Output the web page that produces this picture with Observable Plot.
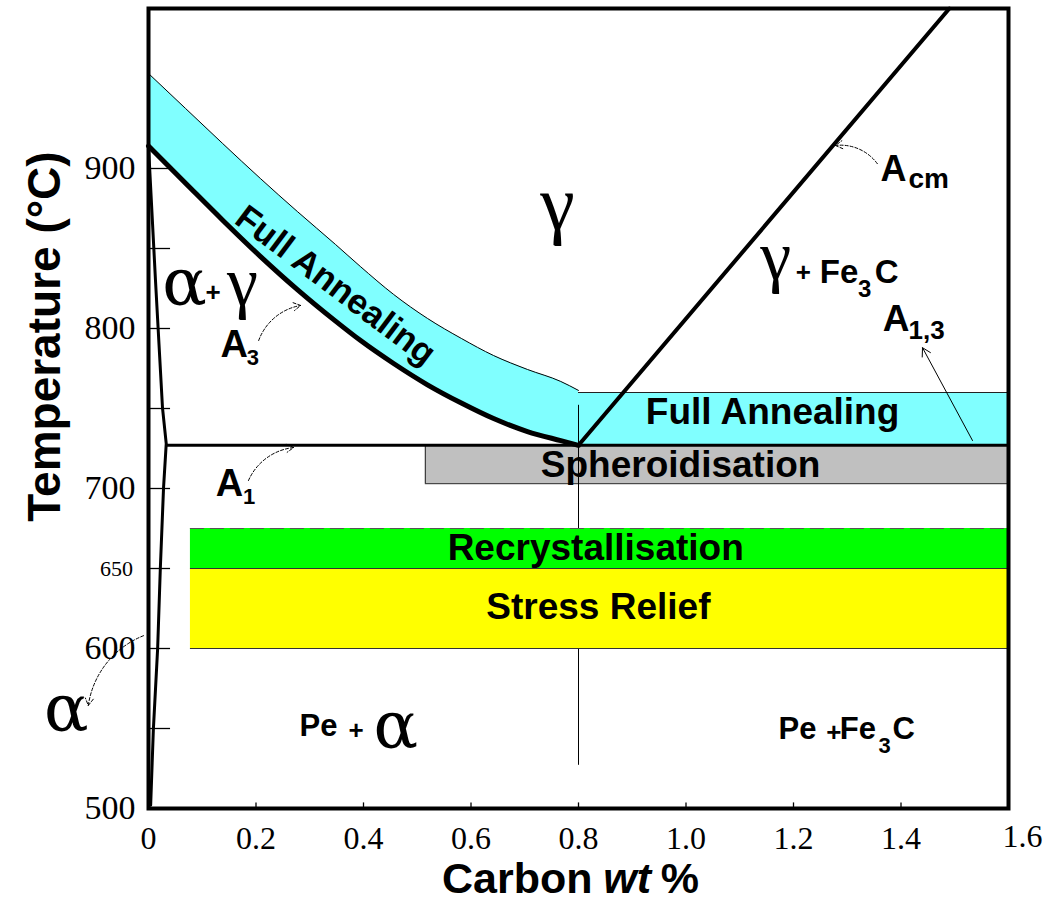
<!DOCTYPE html>
<html>
<head>
<meta charset="utf-8">
<script src="https://cdn.jsdelivr.net/npm/d3@7"></script>
<script src="https://cdn.jsdelivr.net/npm/@observablehq/plot@0.6"></script>
<style>
  html, body { margin: 0; padding: 0; background: #fff; }
  #chart svg { display: block; }
</style>
</head>
<body>
<div id="chart"></div>
<script>
// ---- Data (carbon wt %, temperature °C) ----
const carbon      = [0, 0.069, 0.138, 0.208, 0.277, 0.348, 0.394, 0.456, 0.519, 0.582, 0.642, 0.705, 0.767, 0.8];
const a3Line      = [914, 890.8, 867.7, 845.1, 824.3, 804.6, 792.6, 778.1, 764.8, 753.4, 743.7, 735.6, 729.9, 727];
const annealUpper = [959.4, 937.5, 915.6, 893.8, 873.1, 852.5, 838.8, 821.3, 806.3, 793.8, 783.1, 774.4, 766.9, 761.3];

const alphaC = [0, 0.013, 0.026, 0.033, 0.028, 0.022, 0.017, 0.009, 0.004];
const alphaT = [914, 830, 750.6, 728, 700.6, 650, 600, 549, 502];

const acmC = [0.8, 1.49];
const acmT = [727, 1000];

const eutectoidT = 727;
const eutectoidC = 0.8;
const a1Start = 0.035;

const bandNames = ["Full Annealing", "Spheroidisation", "Recrystallisation", "Stress Relief"];
const bandC1    = [0.8, 0.515, 0.078, 0.078];
const bandC2    = [1.6, 1.6, 1.6, 1.6];
const bandT1    = [727, 703, 650, 600];
const bandT2    = [760, 727, 675, 650];
const bandFill  = ["#80ffff", "#c0c0c0", "#00ff00", "#ffff00"];

const xTicks = [0, 0.2, 0.4, 0.6, 0.8, 1.0, 1.2, 1.4, 1.6];
const xTickLabels = ["0", "0.2", "0.4", "0.6", "0.8", "1.0", "1.2", "1.4", "1.6"];
const yTicks = [550, 600, 650, 700, 750, 800, 850, 900];
const yTickLabels = [900, 800, 700, 600, 500];

// ---- Annotation anchors (data coordinates) ----
const bandLabelC = [1.161, 0.99, 0.832, 0.837];
const bandLabelT = [748, 714.4, 663, 625.6];

const sansPieces = [
  {t: "A", c: 0.134, T: 781.9, s: 38}, {t: "3", c: 0.183, T: 777.5, s: 22},
  {t: "A", c: 0.125, T: 695.6, s: 38}, {t: "1", c: 0.176, T: 690.6, s: 22},
  {t: "A", c: 1.362, T: 892.5, s: 36}, {t: "cm", c: 1.414, T: 888, s: 28},
  {t: "+", c: 1.204, T: 830, s: 26}, {t: "Fe", c: 1.249, T: 828.75, s: 33},
  {t: "3", c: 1.32, T: 819.4, s: 24}, {t: "C", c: 1.351, T: 828.75, s: 33},
  {t: "A", c: 1.366, T: 798.75, s: 37}, {t: "1,3", c: 1.414, T: 793.75, s: 26},
  {t: "+", c: 0.106, T: 817.5, s: 26},
  {t: "Pe", c: 0.281, T: 545.6, s: 31}, {t: "+", c: 0.372, T: 543.75, s: 26},
  {t: "Pe", c: 1.172, T: 543.75, s: 31}, {t: "+", c: 1.261, T: 541.9, s: 26},
  {t: "Fe", c: 1.286, T: 543.75, s: 31}, {t: "3", c: 1.358, T: 535, s: 22},
  {t: "C", c: 1.384, T: 543.75, s: 31}
];
const gammaPieces = [
  {t: "γ", c: 0.761, T: 861.9, s: 78},
  {t: "γ", c: 0.175, T: 814.4, s: 70},
  {t: "γ", c: 1.167, T: 831, s: 70}
];
const alphaPieces = [
  {t: "α", c: 0.067, T: 814.4, s: 66},
  {t: "α", c: -0.153, T: 548.75, s: 66},
  {t: "α", c: 0.46, T: 538, s: 66}
];
const arrowsLeftTurn  = [
  {c1: 0.205, T1: 792.5, c2: 0.283, T2: 814.4},
  {c1: 0.186, T1: 705, c2: 0.27, T2: 725.6}
];
const arrowsRightTurn = [
  {c1: 1.356, T1: 903, c2: 1.278, T2: 914.4},
  {c1: -0.0093, T1: 608, c2: -0.112, T2: 564.4}
];
const straightArrows = [{c1: 1.533, T1: 730, c2: 1.44, T2: 788}];

// ---- Build tables ----
const bandCurve = carbon.map((c, i) => ({c, lo: a3Line[i], hi: annealUpper[i]}));
const alphaLine = alphaC.map((c, i) => ({c, T: alphaT[i]}));
const acmLine = acmC.map((c, i) => ({c, T: acmT[i]}));
const bands = bandNames.map((name, i) => ({name, c1: bandC1[i], c2: bandC2[i], T1: bandT1[i], T2: bandT2[i], fill: bandFill[i], lc: bandLabelC[i], lT: bandLabelT[i]}));

const SANS = "Liberation Sans, Arial, sans-serif";
const SERIF = "Liberation Serif, Times New Roman, serif";
const GREEK_A = "DejaVu Serif, serif";

const chart = Plot.plot({
  width: 1053,
  height: 905,
  marginLeft: 148,
  marginRight: 45,
  marginTop: 8,
  marginBottom: 97,
  x: {domain: [0, 1.6], axis: null},
  y: {domain: [500, 1000], axis: null},
  marks: [
    // Full annealing band above A3
    Plot.areaY(bandCurve, {x: "c", y1: "lo", y2: "hi", fill: "#80ffff", curve: "monotone-x"}),
    // rectangular bands (cyan + gray)
    Plot.rect(bands.slice(0, 2), {x1: "c1", x2: "c2", y1: "T1", y2: "T2", fill: "fill"}),
    Plot.ruleY([bands[0].T2], {x1: eutectoidC, x2: 1.6, stroke: "#222", strokeWidth: 1}),
    Plot.ruleY([bands[1].T1], {x1: bands[1].c1, x2: 1.6, stroke: "#222", strokeWidth: 1}),
    Plot.ruleX([bands[1].c1], {y1: bands[1].T1, y2: bands[1].T2, stroke: "#222", strokeWidth: 1}),
    // vertical eutectoid composition line
    Plot.ruleX([eutectoidC], {y1: 527, y2: 752, stroke: "#000", strokeWidth: 1}),
    // green + yellow bands
    Plot.rect(bands.slice(2), {x1: "c1", x2: "c2", y1: "T1", y2: "T2", fill: "fill"}),
    Plot.ruleY([bands[2].T2], {x1: bands[2].c1, x2: 1.6, stroke: "#555", strokeWidth: 1.2, strokeDasharray: "14,6"}),
    Plot.ruleY([bands[2].T1, bands[3].T1], {x1: bands[2].c1, x2: 1.6, stroke: "#333", strokeWidth: 1}),
    // upper annealing boundary (thin)
    Plot.line(bandCurve, {x: "c", y: "hi", stroke: "#000", strokeWidth: 1, curve: "monotone-x"}),
    // A3 line (thick)
    Plot.line(bandCurve, {x: "c", y: "lo", stroke: "#000", strokeWidth: 5, curve: "monotone-x"}),
    // alpha boundary
    Plot.line(alphaLine, {x: "c", y: "T", stroke: "#000", strokeWidth: 3}),
    // A1 line
    Plot.ruleY([eutectoidT], {x1: a1Start, x2: 1.6, stroke: "#000", strokeWidth: 3}),
    // Acm line
    Plot.line(acmLine, {x: "c", y: "T", stroke: "#000", strokeWidth: 4}),
    // ticks
    Plot.ruleY(yTicks, {x1: 0, x2: 0.041, stroke: "#000", strokeWidth: 1.3}),
    Plot.ruleX(xTicks.slice(1, -1), {y1: 500, y2: 503.5, stroke: "#000", strokeWidth: 1.3}),
    // frame
    Plot.frame({stroke: "#000", strokeWidth: 4}),
    // band labels
    Plot.text(bands, {x: "lc", y: "lT", text: "name", fontFamily: SANS, fontWeight: "bold", fontSize: 37, fill: "#000"}),
    Plot.text(["Full Annealing"], {x: 0.348, y: 826.9, rotate: 37, fontFamily: SANS, fontWeight: "bold", fontSize: 35, fill: "#000"}),
    // phase / line labels
    Plot.text(sansPieces, {x: "c", y: "T", text: "t", fontSize: d => d.s, fontFamily: SANS, fontWeight: "bold", textAnchor: "start", lineAnchor: "bottom", fill: "#000"}),
    Plot.text(gammaPieces, {x: "c", y: "T", text: "t", fontSize: d => d.s, fontFamily: SERIF, textAnchor: "middle", lineAnchor: "bottom", fill: "#000"}),
    Plot.text(alphaPieces, {x: "c", y: "T", text: "t", fontSize: d => d.s, fontFamily: GREEK_A, textAnchor: "middle", lineAnchor: "bottom", fill: "#000"}),
    // arrows
    Plot.arrow(arrowsLeftTurn, {x1: "c1", y1: "T1", x2: "c2", y2: "T2", bend: 30, headLength: 12, stroke: "#000", strokeWidth: 1, strokeDasharray: "3,2"}),
    Plot.arrow(arrowsRightTurn, {x1: "c1", y1: "T1", x2: "c2", y2: "T2", bend: -30, headLength: 12, stroke: "#000", strokeWidth: 1, strokeDasharray: "3,2"}),
    Plot.arrow(straightArrows, {x1: "c1", y1: "T1", x2: "c2", y2: "T2", headLength: 14, stroke: "#000", strokeWidth: 1}),
    // tick labels
    Plot.text(xTicks.slice(0, -1), {x: d => d, y: 474.4, text: (d, i) => xTickLabels[i], fontFamily: SERIF, fontSize: 32, lineAnchor: "bottom", fill: "#000"}),
    Plot.text([xTicks[8]], {x: d => d, y: 476, dx: 14, text: () => xTickLabels[8], fontFamily: SERIF, fontSize: 32, lineAnchor: "bottom", fill: "#000"}),
    Plot.text(yTickLabels, {x: -0.0242, y: d => d, text: d => String(d), textAnchor: "end", fontFamily: SERIF, fontSize: 34, fill: "#000"}),
    Plot.text([650], {x: -0.029, y: d => d, text: d => String(d), textAnchor: "end", fontFamily: SERIF, fontSize: 22, fill: "#000"}),
    // axis titles
    Plot.text(["Temperature (°C)"], {x: -0.1916, y: 795, rotate: -90, fontFamily: SANS, fontWeight: "bold", fontSize: 46, fill: "#000"}),
    Plot.text(["Carbon"], {x: 0.826, y: 446.9, textAnchor: "end", lineAnchor: "bottom", fontFamily: SANS, fontWeight: "bold", fontSize: 43, fill: "#000"}),
    Plot.text(["wt"], {x: 0.846, y: 446.9, textAnchor: "start", lineAnchor: "bottom", fontFamily: SANS, fontWeight: "bold", fontStyle: "italic", fontSize: 43, fill: "#000"}),
    Plot.text(["%"], {x: 0.953, y: 446.9, textAnchor: "start", lineAnchor: "bottom", fontFamily: SANS, fontWeight: "bold", fontSize: 43, fill: "#000"})
  ]
});
document.getElementById("chart").appendChild(chart);
</script>
</body>
</html>
